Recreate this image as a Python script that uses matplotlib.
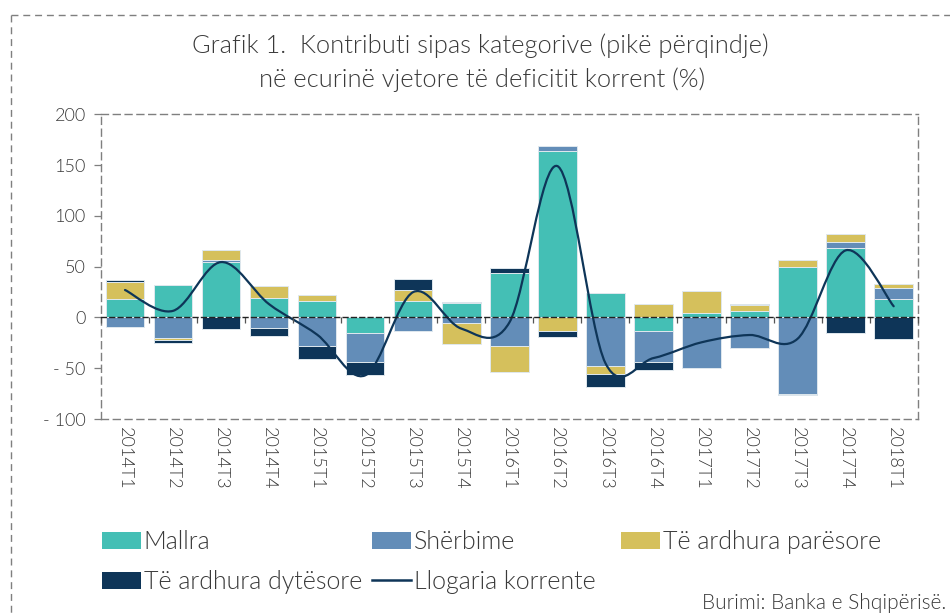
import numpy as np
import matplotlib
matplotlib.use("Agg")
import matplotlib.pyplot as plt
from matplotlib.path import Path
from matplotlib.patches import PathPatch, Patch
from matplotlib.lines import Line2D

categories = ["2014T1", "2014T2", "2014T3", "2014T4", "2015T1", "2015T2", "2015T3", "2015T4",
              "2016T1", "2016T2", "2016T3", "2016T4", "2017T1", "2017T2", "2017T3", "2017T4", "2018T1"]
mallra = [18.3, 32.4, 54.7, 19.3, 16.4, -15.7, 16.4, 13.8, 43.3, 163.6, 23.9, -13.5, 3.9, 6.5, 49.8, 68.5, 18.0]
sherbime = [-9.2, -20.7, 2.0, -10.5, -28.2, -28.6, -13.5, -5.9, -28.2, 4.9, -48.2, -30.8, -50.2, -30.2, -75.7, 6.2, 10.8]
paresore = [16.7, -1.9, 9.5, 11.5, 5.5, 0.0, 11.1, -20.7, -25.9, -13.5, -7.6, 12.8, 22.0, 5.3, 7.2, 7.2, 4.0]
dytesore = [1.4, -3.0, -11.8, -7.9, -13.1, -12.7, 10.2, 1.2, 5.5, -5.9, -12.4, -7.5, 0.0, 1.3, -1.0, -15.7, -21.6]
llogaria = [27, 6.5, 54.5, 13, -17, -57, 25, -11, -5, 149, -45, -40, -24.5, -17.3, -21, 66, 11]
series_names = ["Mallra", "Shërbime", "Të ardhura parësore", "Të ardhura dytësore"]
line_name = "Llogaria korrente"
yticks = [-100, -50, 0, 50, 100, 150, 200]
yticklabels = ["- 100", "- 50", "0", "50", "100", "150", "200"]
title1 = "Grafik 1.  Kontributi sipas kategorive (pikë përqindje)"
title2 = "në ecurinë vjetore të deficitit korrent (%)"
source = "Burimi: Banka e Shqipërisë."

colors = ["#44bfb5", "#638db8", "#d5c05c", "#0e3558"]
line_color = "#0e3558"
txt_color = "#3a3a3a"
frame_color = "#7f7f7f"
FONT = ["Lato", "DejaVu Sans"]
W, H = 950, 614

fig = plt.figure(figsize=(W / 100, H / 100), dpi=100)
ax = fig.add_axes([101 / W, 1 - 419 / H, (917.7 - 101) / W, (419 - 114.3) / H])

x = np.arange(len(categories))
pos = np.zeros(len(categories))
neg = np.zeros(len(categories))
for vals, col in zip([mallra, sherbime, paresore, dytesore], colors):
    v = np.array(vals, dtype=float)
    bottom = np.where(v >= 0, pos, neg)
    ax.bar(x, v, 0.8, bottom=bottom, color=col, edgecolor="#dfe8ee", linewidth=0.7, zorder=2)
    pos = pos + np.where(v >= 0, v, 0)
    neg = neg + np.where(v < 0, v, 0)

# smoothed line (Catmull-Rom via cubic Bezier segments through the data points)
P = np.column_stack([x, np.array(llogaria, dtype=float)])
Pe = np.vstack([P[0], P, P[-1]])
verts = [tuple(P[0])]
codes = [Path.MOVETO]
for i in range(len(P) - 1):
    p0, p1, p2, p3 = Pe[i], Pe[i + 1], Pe[i + 2], Pe[i + 3]
    c1 = p1 + (p2 - p0) / 6.0
    c2 = p2 - (p3 - p1) / 6.0
    verts += [tuple(c1), tuple(c2), tuple(p2)]
    codes += [Path.CURVE4] * 3
ax.add_patch(PathPatch(Path(verts, codes), facecolor="none", edgecolor=line_color,
                       linewidth=1.6, zorder=4, capstyle="round"))

ax.set_xlim(-0.5, len(categories) - 0.5)
ax.set_ylim(-100, 200)
ax.set_yticks(yticks)
ax.set_yticklabels(yticklabels)
ax.set_xticks(x)
ax.set_xticklabels(categories, rotation=-90)

for lab in ax.get_yticklabels() + ax.get_xticklabels():
    lab.set_fontfamily(FONT)
    lab.set_fontweight(300)
    lab.set_fontsize(13)
    lab.set_color(txt_color)
ax.tick_params(axis="y", length=5, width=0.9, color=frame_color, pad=6)
ax.tick_params(axis="x", length=0, pad=6)

for s in ax.spines.values():
    s.set_linestyle((0, (5, 3.5)))
    s.set_color(frame_color)
    s.set_linewidth(1.0)

# zero axis with tick marks between categories
sec = ax.secondary_xaxis(1 / 3)
sec.set_xticks(np.arange(-0.5, len(categories), 1))
sec.tick_params(axis="x", direction="out", length=4, width=0.9, color="#555555")
sec.xaxis.set_ticks_position("bottom")
sec.set_xticklabels([])
sec.spines["bottom"].set_linestyle((0, (3.5, 2.5)))
sec.spines["bottom"].set_color("#222222")
sec.spines["bottom"].set_linewidth(1.0)
sec.set_zorder(5)

fig.text(0.506, 1 - 53 / H, title1, ha="center", va="baseline", fontsize=18.3,
         family=FONT, weight=300, color=txt_color)
fig.text(0.507, 1 - 87 / H, title2, ha="center", va="baseline", fontsize=18.3,
         family=FONT, weight=300, color=txt_color)

# outer dashed frame
fig.add_artist(Line2D([11 / W, 1.0], [1 - 15 / H, 1 - 15 / H], transform=fig.transFigure,
                      color=frame_color, lw=1.0, linestyle=(0, (5, 3.5))))
fig.add_artist(Line2D([11 / W, 11 / W], [1 - 15 / H, 0.0], transform=fig.transFigure,
                      color=frame_color, lw=1.0, linestyle=(0, (5, 3.5))))

legend_cols = [
    ([Patch(facecolor=colors[0]), Patch(facecolor=colors[3])], [series_names[0], series_names[3]], 102),
    ([Patch(facecolor=colors[1]), Line2D([], [], color=line_color, lw=1.8)], [series_names[1], line_name], 372),
    ([Patch(facecolor=colors[2])], [series_names[2]], 621),
]
for hs, ls, xpx in legend_cols:
    leg = fig.legend(hs, ls, ncol=1, loc="upper left", bbox_to_anchor=(xpx / W, 1 - 530 / H),
                     frameon=False, prop=dict(family=FONT, size=18, weight=300),
                     handlelength=1.55, handleheight=0.65, handletextpad=0.12, labelspacing=0.64,
                     borderpad=0, borderaxespad=0)
    for t in leg.get_texts():
        t.set_color(txt_color)

fig.text(946 / W, 1 - 613 / H, source, ha="right", va="bottom", fontsize=15,
         family=FONT, weight=300, color=txt_color)

fig.savefig("out.png", dpi=100)
